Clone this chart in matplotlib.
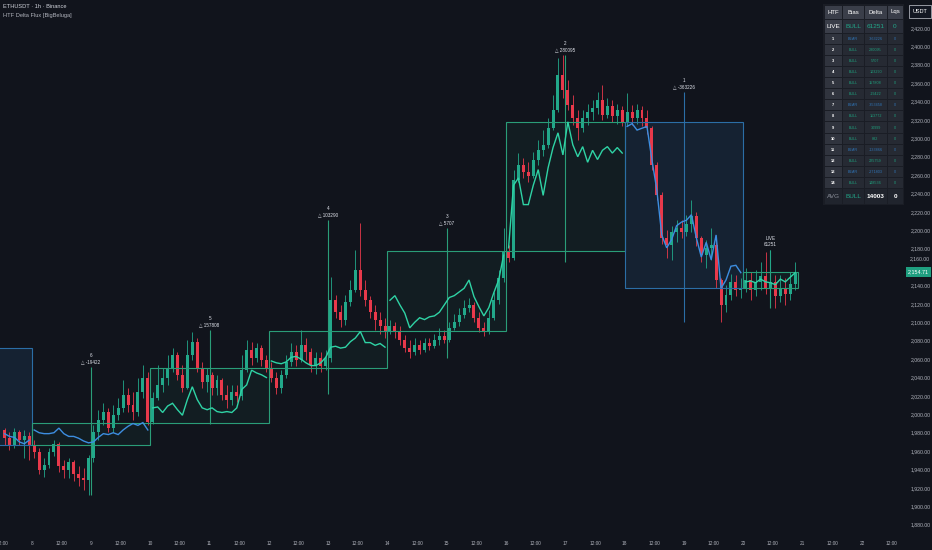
import matplotlib
matplotlib.use("Agg")
import matplotlib.pyplot as plt
import matplotlib.transforms as mtransforms
from matplotlib.colors import to_rgba
from matplotlib.patches import Rectangle
import numpy as np

plt.rcParams['font.family'] = ['Liberation Sans', 'DejaVu Sans']

BG = '#11141c'
BULL = '#22a88a'
BEAR = '#e8394b'
BOX_UP = '#2a9d78'
BOX_DN = '#2b6ea6'
LINE_UP = '#2fd3a5'
LINE_DN = '#3d8ee0'
TXT = '#b2b5be'

# ETHUSDT, 2h bars starting on the 7th at 12:00
first_day = 7.5
bar_hours = 2
first_open = 1983
closes = [1974, 1967, 1981, 1972, 1976, 1966,
          1959, 1940, 1945, 1959, 1968, 1944, 1940, 1948, 1935, 1931, 1929, 1953,
          1981, 1994, 2003, 1985, 1999, 2007, 2021, 2010, 2003, 2024, 2040, 1992,
          2018, 2032, 2040, 2050, 2065, 2043, 2029, 2065, 2079, 2050, 2035, 2043,
          2029, 2037, 2021, 2016, 2024, 2020, 2048, 2070, 2061, 2072, 2059, 2050,
          2040, 2029, 2043, 2057, 2068, 2059, 2075, 2068, 2054, 2061, 2053, 2061,
          2124, 2111, 2103, 2122, 2135, 2157, 2135, 2124, 2111, 2103, 2096, 2091,
          2096, 2090, 2081, 2072, 2068, 2075, 2070, 2077, 2074, 2081, 2085, 2081,
          2094, 2100, 2108, 2116, 2119, 2105, 2094, 2090, 2105, 2124, 2148, 2178,
          2170, 2255, 2271, 2263, 2259, 2277, 2287, 2293, 2311, 2331, 2369, 2353,
          2336, 2322, 2311, 2322, 2329, 2333, 2342, 2325, 2335, 2324, 2331, 2318,
          2329, 2322, 2331, 2322, 2311, 2271, 2238, 2192, 2184, 2198, 2203, 2198,
          2207, 2216, 2192, 2173, 2181, 2184, 2146, 2119, 2130, 2144, 2135, 2137,
          2146, 2135, 2144, 2150, 2137, 2144, 2129, 2137, 2131, 2142, 2154.71]
highs = [1985, 1981, 1985, 1983, 1983, 1981,
         1972, 1963, 1953, 1963, 1972, 1970, 1950, 1953, 1950, 1944, 1942, 1956,
         1988, 2005, 2012, 2007, 2010, 2018, 2037, 2029, 2024, 2040, 2054, 2046,
         2024, 2054, 2050, 2065, 2072, 2068, 2054, 2081, 2090, 2083, 2057, 2050,
         2046, 2043, 2040, 2032, 2032, 2032, 2065, 2081, 2079, 2078, 2075, 2065,
         2057, 2046, 2048, 2065, 2078, 2075, 2092, 2083, 2072, 2068, 2068, 2070,
         2149, 2130, 2119, 2130, 2146, 2179, 2208, 2146, 2129, 2119, 2111, 2105,
         2103, 2100, 2096, 2086, 2081, 2083, 2081, 2083, 2083, 2087, 2094, 2092,
         2100, 2109, 2116, 2124, 2127, 2122, 2111, 2100, 2113, 2133, 2157, 2203,
         2184, 2266, 2284, 2279, 2274, 2285, 2298, 2309, 2322, 2347, 2387, 2391,
         2363, 2347, 2331, 2331, 2337, 2342, 2350, 2358, 2344, 2342, 2337, 2335,
         2349, 2336, 2337, 2335, 2331, 2313, 2274, 2242, 2200, 2205, 2211, 2211,
         2217, 2233, 2220, 2194, 2190, 2203, 2187, 2148, 2141, 2153, 2152, 2148,
         2159, 2155, 2157, 2166, 2177, 2179, 2152, 2152, 2148, 2155, 2166]
lows = [1967, 1961, 1963, 1967, 1953, 1950,
        1953, 1935, 1932, 1942, 1955, 1937, 1931, 1931, 1927, 1922, 1918, 1912,
        1948, 1972, 1988, 1981, 1981, 1994, 2003, 2003, 1994, 1998, 2018, 1988,
        1990, 2016, 2024, 2032, 2046, 2037, 2024, 2027, 2059, 2046, 2029, 2024,
        2021, 2021, 2016, 2007, 2010, 2013, 2016, 2046, 2054, 2057, 2053, 2046,
        2035, 2022, 2023, 2040, 2053, 2053, 2057, 2059, 2046, 2044, 2046, 2048,
        2057, 2105, 2095, 2097, 2118, 2133, 2129, 2118, 2105, 2092, 2087, 2083,
        2087, 2083, 2075, 2068, 2061, 2065, 2066, 2068, 2070, 2072, 2075, 2077,
        2079, 2092, 2096, 2105, 2111, 2100, 2090, 2085, 2087, 2103, 2120, 2144,
        2166, 2168, 2253, 2257, 2253, 2257, 2271, 2281, 2290, 2309, 2329, 2344,
        2331, 2315, 2298, 2307, 2315, 2320, 2327, 2320, 2322, 2318, 2316, 2313,
        2313, 2315, 2316, 2313, 2305, 2266, 2233, 2185, 2170, 2168, 2187, 2192,
        2194, 2198, 2183, 2166, 2159, 2168, 2137, 2100, 2111, 2124, 2129, 2127,
        2133, 2124, 2129, 2135, 2131, 2124, 2116, 2122, 2119, 2124, 2135]
# delta flux line drawn inside each HTF box
flux = [1979, 1976, 1975, 1970, 1968, 1972,
        1983, 1980, 1979, 1979, 1980, 1985, 1979, 1976, 1976, 1974, 1971, 1969,
        1970, 1975, 1979, 1978, 1980, 1978, 1983, 1987, 1990, 1988, 1991, 1983,
        2007, 2008, 2002, 2009, 2012, 2005, 1999, 2016, 2030, 2016, 2007, 2005,
        2007, 2003, 2002, 2003, 2002, 2007, 2027, 2032, 2048, 2045, 2043, 2040,
        2058, 2056, 2055, 2057, 2062, 2063, 2060, 2056, 2053, 2053, 2056, 2062,
        2073, 2074, 2072, 2073, 2079, 2083, 2090, 2078, 2078, 2075, 2077, 2073,
        2124, 2129, 2119, 2110, 2094, 2100, 2105, 2103, 2106, 2107, 2111, 2119,
        2127, 2129, 2133, 2137, 2146, 2128, 2117, 2107, 2116, 2132, 2146, 2173,
        2181, 2249, 2257, 2228, 2228, 2249, 2266, 2238, 2268, 2290, 2306, 2282,
        2318, 2293, 2280, 2291, 2274, 2287, 2277, 2287, 2291, 2284, 2290, 2284,
        2313, 2316, 2309, 2311, 2313, 2277, 2244, 2195, 2181, 2190, 2205, 2209,
        2211, 2217, 2192, 2171, 2187, 2168, 2195, 2137, 2146, 2161, 2162, 2154,
        2144, 2145, 2143, 2147, 2144, 2143, 2141, 2147, 2144, 2149, 2154]

# 2-day HTF candles
htf_day = [6, 8, 10, 12, 14, 16, 18, 20]
htf_open = [2072, 1967, 1991, 2050, 2091, 2178, 2318, 2137]
htf_close = [1967, 1991, 2050, 2091, 2178, 2318, 2137, 2154.71]
htf_high = [2085, 2051, 2092, 2211, 2203, 2391, 2350, 2179]
htf_low = [1940, 1912, 1990, 2022, 2061, 2166, 2100, 2116]
htf_delta = [-353458, -19422, 157808, 103290, 5707, 280095, -363226, 61251]
htf_tag = ['7', '6', '5', '4', '3', '2', '1', 'LIVE']

# table
tbl_num = ['1', '2', '3', '4', '5', '6', '7', '8', '9', '10', '11', '12', '13', '14']
tbl_bias = ['BEAR', 'BULL', 'BULL', 'BULL', 'BULL', 'BULL', 'BEAR', 'BULL',
            'BULL', 'BULL', 'BEAR', 'BULL', 'BEAR', 'BULL']
tbl_delta = [-363226, 280095, 5707, 103290, 157808, -19422, -353458, 113772,
             30999, 882, -133866, 225759, -271803, 148536]
tbl_lqs = [0, 0, 0, 0, 0, 0, 0, 0, 0, 0, 0, 0, 0, 0]
live_row = ['LIVE', 'BULL', '61251', '0']
avg_row = ['AVG', 'BULL', '14003', '0']

day_ticks = [7.5 + 0.5 * k for k in range(31)]
price_ticks = [p for p in range(1880, 2421, 20) if p != 2160]

n = len(closes)
t = first_day + (np.arange(n) + 0.5) * bar_hours / 24
c = np.array(closes, dtype=float)
o = np.r_[first_open, c[:-1]]
h = np.array(highs, dtype=float)
lo = np.array(lows, dtype=float)
fl = np.array(flux, dtype=float)

fig = plt.figure(figsize=(9.32, 5.5), dpi=100, facecolor=BG)
ax = fig.add_axes([0, 17 / 550, 905 / 932, 533 / 550], facecolor=BG)
x_left = 7.4654
ax.set_xlim(x_left, 22.727)
ax.set_ylim(1871.0, 2450.4)

# HTF boxes
for k, start in enumerate(htf_day):
    end = start + 2 if k < len(htf_day) - 1 else t[-1] + bar_hours / 48
    mid = start + 1 if k < len(htf_day) - 1 else (start + end) / 2
    bo, bc = htf_open[k], htf_close[k]
    up = bc >= bo
    ec = BOX_UP if up else BOX_DN
    fc = to_rgba(BOX_UP, 0.07) if up else to_rgba(BOX_DN, 0.16)
    ax.add_patch(Rectangle((start, min(bo, bc)), end - start, abs(bc - bo),
                           facecolor=fc, edgecolor='none', zorder=1))
    ax.vlines(mid, htf_low[k], htf_high[k], color=ec, lw=0.8, zorder=1.5)
    ax.add_patch(Rectangle((start, min(bo, bc)), end - start, abs(bc - bo),
                           facecolor='none', edgecolor=ec, lw=0.8, zorder=2.5))
    if mid > x_left:
        if htf_tag[k] == 'LIVE':
            label = f"LIVE\n{htf_delta[k]}"
        else:
            label = f"{htf_tag[k]}\n△ {htf_delta[k]}"
        ax.text(mid, htf_high[k] + 3, label, ha='center', va='bottom', fontsize=3.3,
                color='#e0e3eb', linespacing=1.3, zorder=4)
    seg = (t >= start) & (t < end)
    ax.plot(t[seg], fl[seg], color=LINE_UP if htf_delta[k] > 0 else LINE_DN,
            lw=1.0, zorder=3, solid_joinstyle='miter')

# candles
cols = np.where(c >= o, BULL, BEAR)
ax.vlines(t, lo, h, colors=cols, lw=0.6, zorder=2)
body = np.maximum(np.abs(c - o), 0.8)
ax.bar(t, body, bottom=np.minimum(o, c), width=0.6 * bar_hours / 24,
       color=cols, linewidth=0, zorder=2.2)

for s in ax.spines.values():
    s.set_visible(False)
ax.set_xticks(day_ticks)
ax.set_xticklabels(['12:00' if d % 1 else str(int(d)) for d in day_ticks])
ax.tick_params(axis='x', length=0, pad=6, labelsize=3.4, labelcolor=TXT)
ax.yaxis.tick_right()
ax.set_yticks(price_ticks)
ax.set_yticklabels([f"{p:,.2f}" for p in price_ticks])
ax.tick_params(axis='y', length=0, pad=4, labelsize=3.7, labelcolor=TXT)

# overlay in pixel coordinates
ov = fig.add_axes([0, 0, 1, 1])
ov.set_xlim(0, 932)
ov.set_ylim(550, 0)
ov.axis('off')
ov.patch.set_alpha(0)

ov.text(3, 7, "ETHUSDT · 1h · Binance", fontsize=4.1, color='#d1d4dc', va='center')
ov.text(3, 16, "HTF Delta Flux [BigBeluga]", fontsize=4.1, color=TXT, va='center')

ov.add_patch(Rectangle((909, 5), 22, 13, facecolor='#131722', edgecolor='#c9ccd4', lw=0.5))
ov.text(920, 11.5, "USDT", fontsize=4.0, color='white', ha='center', va='center')

mix = mtransforms.blended_transform_factory(ov.transData, ax.transData)
ov.text(910, 2169, "2,160.00", transform=mix, fontsize=3.7, color=TXT, va='center')
ov.text(918.5, closes[-1], f"{closes[-1]:,.2f}", transform=mix, fontsize=3.9,
        color='white', ha='center', va='center',
        bbox=dict(boxstyle='square,pad=0.45', fc='#1f9f80', ec='none'))

# table
col_x = [824, 842, 864, 887, 903]
ov.add_patch(Rectangle((823, 4), 81, 201, facecolor='#1a1d25', edgecolor='none', zorder=5))


def cell(ci, y0, y1, fc, txt, color, size, bold=False):
    x0, x1 = col_x[ci], col_x[ci + 1]
    ov.add_patch(Rectangle((x0 + 0.5, y0 + 0.5), x1 - x0 - 1, y1 - y0 - 1,
                           facecolor=fc, edgecolor='none', zorder=6))
    ov.text((x0 + x1) / 2, (y0 + y1) / 2, txt, fontsize=size, color=color,
            ha='center', va='center', zorder=7,
            fontweight='bold' if bold else 'normal')


for ci, name in enumerate(['HTF', 'Bias', 'Delta', 'Lqs']):
    cell(ci, 5, 19, '#3a3e49', name, 'white', 4.3)

for ci, txt in enumerate(live_row):
    cell(ci, 19, 33, '#3a3e49' if ci == 0 else '#2a2e39', txt,
         'white' if ci == 0 else BULL, 4.6)

row_h = (188.7 - 33) / len(tbl_num)
for r in range(len(tbl_num)):
    y0 = 33 + r * row_h
    y1 = y0 + row_h
    tc = '#1f9e7c' if tbl_bias[r] == 'BULL' else '#2f73b5'
    cell(0, y0, y1, '#30343e', tbl_num[r], 'white', 2.9, bold=True)
    cell(1, y0, y1, '#262a33', tbl_bias[r], tc, 2.7)
    cell(2, y0, y1, '#262a33', str(tbl_delta[r]), tc, 2.7)
    cell(3, y0, y1, '#262a33', str(tbl_lqs[r]), tc, 2.7)

avg_cols = ['#8a8e99', BULL, 'white', 'white']
for ci, txt in enumerate(avg_row):
    cell(ci, 188.7, 204.5, '#20242d', txt, avg_cols[ci], 4.6, bold=(ci >= 2))

fig.savefig('out.png', dpi=100, facecolor=BG)
